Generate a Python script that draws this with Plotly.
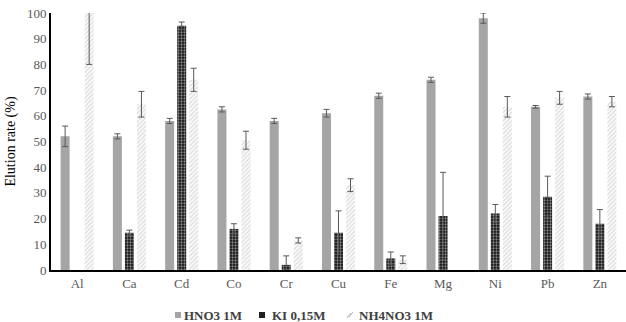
import plotly.graph_objects as go

elements = ["Al", "Ca", "Cd", "Co", "Cr", "Cu", "Fe", "Mg", "Ni", "Pb", "Zn"]
hno3 = [52, 52, 58, 62.5, 58, 61, 67.8, 74, 98, 63.5, 67.5]
hno3_err = [4, 1, 1, 1, 1, 1.5, 1, 1, 2, 0.5, 1]
ki = [None, 14.5, 95, 16, 2, 14.5, 4.5, 21, 22, 28.5, 18]
ki_err = [0, 1, 1.5, 2, 3.5, 8.5, 2.5, 17, 3.5, 8, 5.5]
nh4 = [100, 64.5, 74, 50.5, 11.5, 33, 4, None, 63.5, 67, 65.5]
nh4_err = [20, 5, 4.5, 3.5, 1, 2.5, 1.5, 0, 4, 2.5, 2]
series_names = ["HNO3 1M", "KI 0,15M", "NH4NO3 1M"]

W, H = 626, 322
ML, MR, MT, MB = 51, 0, 13, 52
PW, PH = W - ML - MR, H - MT - MB


def px(xp):
    return (xp - ML) / PW


def py(yp):
    return (H - MB - yp) / PH


err_style = dict(type="data", visible=True, color="#595959", thickness=1, width=3)

fig = go.Figure()
fig.add_trace(go.Bar(
    x=elements, y=hno3, name=series_names[0],
    marker=dict(color="#a5a5a5", line=dict(width=0)),
    error_y=dict(array=hno3_err, **err_style),
))
fig.add_trace(go.Bar(
    x=elements, y=ki, name=series_names[1],
    marker=dict(color="black", line=dict(width=0),
                pattern=dict(shape=".", fgcolor="white", bgcolor="#111111", size=3, solidity=0.45)),
    error_y=dict(array=ki_err, **err_style),
))
fig.add_trace(go.Bar(
    x=elements, y=nh4, name=series_names[2],
    marker=dict(color="white", line=dict(width=0),
                pattern=dict(shape="/", fgcolor="#bdbdbd", bgcolor="white", size=3, solidity=0.5)),
    error_y=dict(array=nh4_err, **err_style),
))

# custom compact legend
legend_font = dict(family="Liberation Serif", size=13, color="#404040", weight="bold")
sym_x = [175, 259, 347]
txt_x = [182, 270, 357]
ly0, ly1, lyc = 312, 318, 315
shapes = [
    dict(type="rect", xref="paper", yref="paper", x0=px(sym_x[0]), x1=px(sym_x[0] + 6),
         y0=py(ly1), y1=py(ly0), fillcolor="#a5a5a5", line=dict(width=0)),
    dict(type="rect", xref="paper", yref="paper", x0=px(sym_x[1]), x1=px(sym_x[1] + 6),
         y0=py(ly1), y1=py(ly0), fillcolor="#202020", line=dict(width=0)),
    dict(type="line", xref="paper", yref="paper", x0=px(sym_x[2]), x1=px(sym_x[2] + 4),
         y0=py(ly1), y1=py(ly0 + 1), line=dict(color="#b0b0b0", width=1)),
    dict(type="line", xref="paper", yref="paper", x0=px(sym_x[2] + 2), x1=px(sym_x[2] + 6),
         y0=py(ly1 - 1), y1=py(ly0), line=dict(color="#b0b0b0", width=1)),
]
annotations = [
    dict(text=series_names[i], xref="paper", yref="paper", x=px(txt_x[i]), y=py(lyc),
         xanchor="left", yanchor="middle", showarrow=False, font=legend_font)
    for i in range(3)
]

fig.update_layout(
    width=W, height=H,
    margin=dict(l=ML, r=MR, t=MT, b=MB, autoexpand=False),
    barmode="group", bargap=0.31, bargroupgap=0.25,
    plot_bgcolor="white", paper_bgcolor="white",
    font=dict(family="Liberation Serif", size=13, color="#595959"),
    showlegend=False,
    shapes=shapes, annotations=annotations,
    xaxis=dict(showline=True, linecolor="black", linewidth=2, ticks="", showgrid=False,
               tickfont=dict(size=13, color="#595959")),
    yaxis=dict(range=[0, 100], dtick=10, showline=True, linecolor="black", linewidth=2,
               ticks="", showgrid=False, zeroline=False,
               tickfont=dict(size=13, color="#595959"),
               title=dict(text="Elution rate (%)", font=dict(size=14, color="black"), standoff=8)),
)

fig.write_html("out.html")
